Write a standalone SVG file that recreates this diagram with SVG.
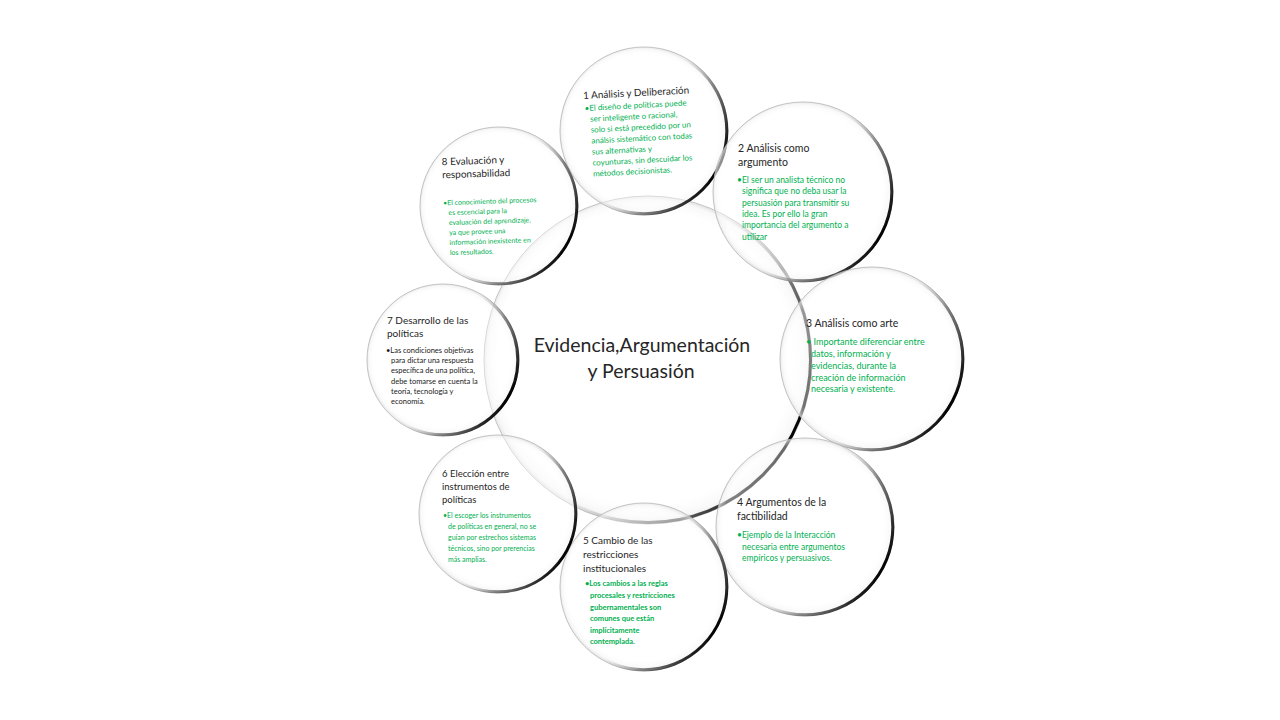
<svg xmlns="http://www.w3.org/2000/svg" width="1280" height="720" viewBox="0 0 1280 720">
<defs>
<radialGradient id="glass" cx="0.5" cy="0.5" r="0.5" fx="0.4" fy="0.4">
<stop offset="0" stop-color="#ffffff" stop-opacity="0.4"/>
<stop offset="0.9" stop-color="#ffffff" stop-opacity="0.4"/>
<stop offset="0.97" stop-color="#f4f4f4" stop-opacity="0.6"/>
<stop offset="1" stop-color="#e2e2e2" stop-opacity="0.8"/>
</radialGradient>
<linearGradient id="rim" x1="0.05" y1="0.25" x2="0.95" y2="0.75">
<stop offset="0" stop-color="#ffffff" stop-opacity="0"/>
<stop offset="0.5" stop-color="#c8c8c8" stop-opacity="0.15"/>
<stop offset="0.72" stop-color="#555555" stop-opacity="0.7"/>
<stop offset="1" stop-color="#000000" stop-opacity="1"/>
</linearGradient>
<filter id="soft" x="-10%" y="-10%" width="120%" height="120%">
<feGaussianBlur stdDeviation="0.7"/>
</filter>
<style>
.b{fill:url(#glass);stroke:#b4b4b4;stroke-width:0.8}
.r{fill:none;stroke:url(#rim);stroke-width:3;filter:url(#soft)}
.t{font-family:Lato,"Open Sans",sans-serif;fill:#262626}
.g{font-family:Lato,"Open Sans",sans-serif;fill:#00b050}
.k{font-family:Lato,"Open Sans",sans-serif;fill:#1a1a1a}
</style>
</defs>
<rect width="1280" height="720" fill="#ffffff"/>
<g id="connectors"></g>
<g id="center">
<circle class="b" cx="648" cy="360" r="164"/>
<circle class="r" cx="648" cy="360" r="162.5"/>
<text class="t" font-size="19.5" text-anchor="middle"><tspan x="642" y="352">Evidencia,Argumentación</tspan><tspan x="641" y="378">y Persuasión</tspan></text>
</g>
<g id="n1">
<circle class="b" cx="644" cy="131" r="84"/>
<circle class="r" cx="644" cy="131" r="82.8"/>
<g transform="rotate(-3 640 95)">
<text class="t" font-size="10" x="583" y="96">1 Análisis y Deliberación</text>
<text class="g" font-size="8"><tspan x="584" y="108">•El diseño de políticas puede</tspan><tspan x="589" y="119">ser inteligente o racional,</tspan><tspan x="589" y="130">solo si está precedido por un</tspan><tspan x="589" y="141">análsis sistemático con todas</tspan><tspan x="589" y="152">sus alternativas y</tspan><tspan x="589" y="163">coyunturas, sin descuidar los</tspan><tspan x="589" y="174">métodos decisionistas.</tspan></text>
</g>
</g>
<g id="n2">
<circle class="b" cx="803" cy="192" r="90"/>
<circle class="r" cx="803" cy="192" r="88.8"/>
<text class="t" font-size="10.5"><tspan x="738" y="152">2 Análisis como</tspan><tspan x="738" y="166">argumento</tspan></text>
<text class="g" font-size="8.5"><tspan x="737" y="183">•El ser un analista técnico no</tspan><tspan x="742" y="194">significa que no deba usar la</tspan><tspan x="742" y="206">persuasión para transmitir su</tspan><tspan x="742" y="217">idea. Es por ello la gran</tspan><tspan x="742" y="228">importancia del argumento a</tspan><tspan x="742" y="240">utilizar</tspan></text>
</g>
<g id="n3">
<circle class="b" cx="872" cy="359" r="92"/>
<circle class="r" cx="872" cy="359" r="90.8"/>
<text class="t" font-size="10.5" x="806" y="327">3 Análisis como arte</text>
<text class="g" font-size="9"><tspan x="806" y="345">• Importante diferenciar entre</tspan><tspan x="811" y="357">datos, información y</tspan><tspan x="811" y="369">evidencias, durante la</tspan><tspan x="811" y="381">creación de información</tspan><tspan x="811" y="392">necesaria  y existente.</tspan></text>
</g>
<g id="n4">
<circle class="b" cx="805" cy="527" r="89"/>
<circle class="r" cx="805" cy="527" r="87.8"/>
<text class="t" font-size="10.5"><tspan x="737" y="506">4 Argumentos  de la</tspan><tspan x="737" y="520">factibilidad</tspan></text>
<text class="g" font-size="8.5"><tspan x="737" y="538">•Ejemplo de la Interacción</tspan><tspan x="742" y="550">necesaria entre argumentos</tspan><tspan x="742" y="561">empíricos y persuasivos.</tspan></text>
</g>
<g id="n5">
<circle class="b" cx="644" cy="587" r="84"/>
<circle class="r" cx="644" cy="587" r="82.8"/>
<text class="t" font-size="10"><tspan x="583" y="544">5 Cambio de las</tspan><tspan x="583" y="558">restricciones</tspan><tspan x="583" y="572">institucionales</tspan></text>
<text class="g" font-size="7.5" font-weight="bold"><tspan x="585" y="586">•Los cambios a las reglas</tspan><tspan x="590" y="598">procesales y restricciones</tspan><tspan x="590" y="610">gubernamentales son</tspan><tspan x="590" y="621">comunes  que están</tspan><tspan x="590" y="633">implícitamente</tspan><tspan x="590" y="644">contemplada.</tspan></text>
</g>
<g id="n6">
<circle class="b" cx="498" cy="514" r="79"/>
<circle class="r" cx="498" cy="514" r="77.8"/>
<text class="t" font-size="9.5"><tspan x="442" y="477">6 Elección entre</tspan><tspan x="442" y="490">instrumentos de</tspan><tspan x="442" y="503">políticas</tspan></text>
<text class="g" font-size="7"><tspan x="443" y="518">•El escoger los instrumentos</tspan><tspan x="448" y="529">de políticas en general, no se</tspan><tspan x="448" y="540">guían por estrechos sistemas</tspan><tspan x="448" y="551">técnicos, sino por prerencias</tspan><tspan x="448" y="562">más amplias.</tspan></text>
</g>
<g id="n7">
<circle class="b" cx="443" cy="360" r="76"/>
<circle class="r" cx="443" cy="360" r="74.8"/>
<text class="t" font-size="10"><tspan x="387" y="324">7 Desarrollo de las</tspan><tspan x="387" y="337">políticas</tspan></text>
<text class="k" font-size="7.5"><tspan x="386" y="353">•Las condiciones objetivas</tspan><tspan x="391" y="363">para dictar una respuesta</tspan><tspan x="391" y="373">específica de una política,</tspan><tspan x="391" y="384">debe tomarse en cuenta la</tspan><tspan x="391" y="394">teoría, tecnología y</tspan><tspan x="391" y="404">economía.</tspan></text>
</g>
<g id="n8">
<circle class="b" cx="499" cy="206" r="79"/>
<circle class="r" cx="499" cy="206" r="77.8"/>
<g transform="rotate(-2 480 170)">
<text class="t" font-size="10"><tspan x="442" y="164">8 Evaluación y</tspan><tspan x="442" y="177">responsabilidad</tspan></text>
<text class="g" font-size="7"><tspan x="442" y="204">•El conocimiento del procesos</tspan><tspan x="447" y="214">es escencial para la</tspan><tspan x="447" y="224">evaluación del aprendizaje,</tspan><tspan x="447" y="234">ya que provee una</tspan><tspan x="447" y="244">información inexistente en</tspan><tspan x="447" y="254">los resultados.</tspan></text>
</g>
</g>
</svg>
